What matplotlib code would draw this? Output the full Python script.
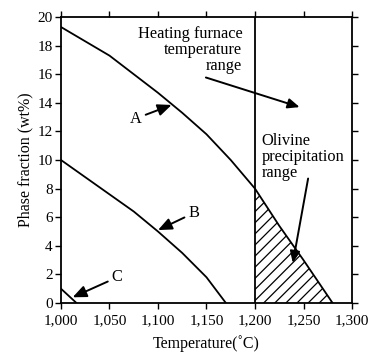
import numpy as np
import matplotlib
matplotlib.use('Agg')
import matplotlib.pyplot as plt

# curve values
temp_a = [1000, 1025, 1050, 1075, 1100, 1125, 1150, 1175, 1200, 1225, 1250, 1265, 1280]
frac_a = [19.3, 18.3, 17.3, 16.0, 14.7, 13.3, 11.8, 10.0, 8.0, 5.4, 3.0, 1.5, 0.0]

temp_b = [1000, 1025, 1050, 1075, 1100, 1125, 1150, 1170]
frac_b = [10.0, 8.8, 7.6, 6.4, 5.0, 3.5, 1.8, 0.0]

temp_c = [1000, 1016]
frac_c = [1.0, 0.0]

x_ticks = [1000, 1050, 1100, 1150, 1200, 1250, 1300]
x_tick_labels = ['1,000', '1,050', '1,100', '1,150', '1,200', '1,250', '1,300']
y_ticks = [0, 2, 4, 6, 8, 10, 12, 14, 16, 18, 20]

furnace_start = 1200

plt.rcParams['font.family'] = ['Liberation Serif', 'DejaVu Serif']
plt.rcParams['hatch.linewidth'] = 0.9

fig = plt.figure(figsize=(3.71, 3.53), dpi=100)
ax = fig.add_axes([0.1644, 0.1416, 0.7844, 0.8102])

ax.plot(temp_a, frac_a, color='black', lw=1.3)
ax.plot(temp_b, frac_b, color='black', lw=1.3)
ax.plot(temp_c, frac_c, color='black', lw=1.3)
ax.axvline(furnace_start, color='black', lw=1.3)

# hatched olivine region under curve A, right of 1200
ta = np.array(temp_a)
fa = np.array(frac_a)
mask = ta >= furnace_start
ax.fill_between(ta[mask], 0, fa[mask], facecolor='none', edgecolor='black',
                hatch='///', lw=0)

ax.set_xlim(1000, 1300)
ax.set_ylim(0, 20)
ax.set_xticks(x_ticks)
ax.set_xticklabels(x_tick_labels)
ax.set_yticks(y_ticks)
ax.tick_params(direction='out', length=4, width=1, labelsize=11, pad=2,
               top=True, right=True, colors='black')
ax.tick_params(axis='x', pad=4)
for s in ax.spines.values():
    s.set_linewidth(1.3)

ax.set_xlabel('Temperature(˚C)', fontsize=11.5, labelpad=6)
ax.set_ylabel('Phase fraction (wt%)', fontsize=11.5, labelpad=3)

arrow = dict(arrowstyle='-|>,head_length=0.7,head_width=0.3', color='black', lw=1.4,
             shrinkA=1, shrinkB=0)
fs = 11.8
ax.annotate('A', xy=(1114, 13.85), xytext=(1077, 12.9), fontsize=fs,
            ha='center', va='center', arrowprops=arrow)
ax.annotate('B', xy=(1100, 5.1), xytext=(1137, 6.3), fontsize=fs,
            ha='center', va='center', arrowprops=arrow)
ax.annotate('C', xy=(1012, 0.4), xytext=(1058, 1.8), fontsize=fs,
            ha='center', va='center', arrowprops=arrow)

ax.text(1187, 19.4, 'Heating furnace\ntemperature\nrange', fontsize=fs,
        ha='right', va='top', linespacing=1.0)
ax.annotate('', xy=(1246, 13.7), xytext=(1148, 15.8), arrowprops=arrow)

ax.text(1207, 11.9, 'Olivine\nprecipitation\nrange', fontsize=fs,
        ha='left', va='top', linespacing=1.0)
ax.annotate('', xy=(1239, 2.8), xytext=(1255, 8.8), arrowprops=arrow)

fig.savefig('out.png', dpi=100)
